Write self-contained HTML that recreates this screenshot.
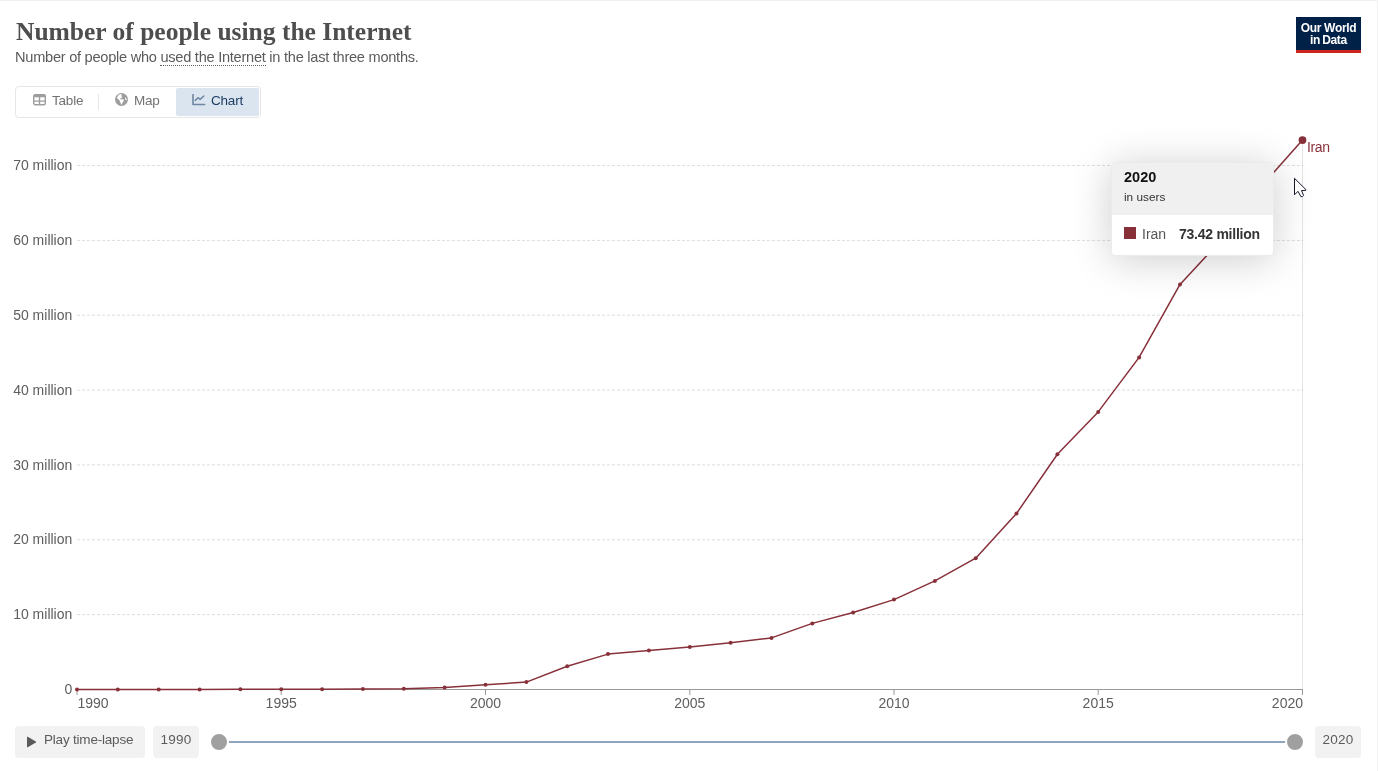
<!DOCTYPE html>
<html lang="en">
<head>
<meta charset="utf-8">
<title>Number of people using the Internet</title>
<style>
html,body{margin:0;padding:0;background:#fff;}
body{width:1378px;height:771px;position:relative;overflow:hidden;font-family:"Liberation Sans",sans-serif;color:#5b5b5b;}
.abs{position:absolute;white-space:nowrap;}
#frame-top{left:0;top:0;width:1378px;height:1px;background:#f0f0f0;}
#frame-right{left:1377px;top:0;width:1px;height:771px;background:#f2f2f2;}
#title{left:16px;top:16px;font-family:"Liberation Serif",serif;font-weight:bold;font-size:25.5px;line-height:32px;color:#4e4e4e;margin:0;}
#subtitle{left:15px;top:48px;font-size:14.6px;letter-spacing:-0.26px;line-height:18px;color:#5b5b5b;}
#subtitle .dod{border-bottom:1px dotted #5b5b5b;}
#logo{left:1296px;top:17px;width:65px;height:33px;background:#002147;border-bottom:3px solid #ce261e;color:#fff;font-weight:bold;font-size:12px;line-height:12px;text-align:center;letter-spacing:-0.3px;}
#logo span{display:block;}
#tabs{left:15px;top:86px;width:244px;height:30px;border:1px solid #e7e7e7;border-radius:4px;background:#fff;}
.tab{position:absolute;top:1px;height:28px;line-height:26px;font-size:13.5px;letter-spacing:-0.2px;color:#727272;white-space:nowrap;}
.tab svg{position:absolute;}
.tab .lbl{position:absolute;top:0;}
#tab-chart{background:#dbe5f0;border-radius:2px;color:#1d3d63;}
#tabsep{left:98px;top:94px;width:1px;height:16px;background:#e7e7e7;}
.btn{background:#f2f2f2;border-radius:4px;height:32px;line-height:28px;font-size:13.5px;letter-spacing:-0.2px;color:#5b5b5b;top:726px;}
#tooltip{left:1111px;top:162px;width:161px;height:92px;border:1px solid #ebebeb;border-radius:4px;background:#fff;box-shadow:0 4px 40px rgba(0,0,0,.2);overflow:visible;}
#tt-head{position:absolute;left:0;top:0;width:161px;height:52px;background:#f0f0f0;border-radius:3px 3px 0 0;}
#tt-title{position:absolute;left:12px;top:6px;font-size:14.5px;line-height:16px;font-weight:bold;color:#111;}
#tt-sub{position:absolute;left:12px;top:27px;font-size:11.8px;line-height:14px;color:#333;}
#tt-body{position:absolute;left:0;top:52px;width:161px;height:40px;}
#tt-sw{left:12px;top:12px;width:12px;height:12px;background:#883039;}
#tt-name{left:30px;top:11px;font-size:14px;line-height:16px;color:#555;}
#tt-val{left:67px;top:11px;font-size:14px;line-height:16px;font-weight:bold;color:#333;letter-spacing:-0.25px;}
</style>
</head>
<body>
<div class="abs" id="frame-top"></div>
<div class="abs" id="frame-right"></div>

<h1 class="abs" id="title">Number of people using the Internet</h1>
<div class="abs" id="subtitle">Number of people who <span class="dod">used the Internet</span> in the last three months.</div>

<div class="abs" id="logo"><span style="margin-top:5px">Our World</span><span style="word-spacing:-1px">in Data</span></div>

<div class="abs" id="tabs">
  <div class="tab" id="tab-table" style="left:1px;width:81px">
    <svg style="left:16px;top:6px" width="13" height="11.5" viewBox="0 0 13 11.5"><rect x="0.7" y="0.7" width="11.6" height="10" rx="1.5" fill="none" stroke="#9d9d9d" stroke-width="1.4"/><rect x="0.7" y="0.7" width="11.6" height="2.6" rx="1" fill="#9d9d9d"/><path d="M6.5 3v8M1 7.1h11" stroke="#9d9d9d" stroke-width="1.4"/></svg>
    <span class="lbl" style="left:35px">Table</span>
  </div>
  <div class="tab" id="tab-map" style="left:83px;width:76px">
    <svg style="left:16px;top:4.85px" width="13" height="13" viewBox="0 0 13 13"><circle cx="6.5" cy="6.5" r="6.5" fill="#9d9d9d"/><path d="M1.9 5.0L3.6 1.7L6.9 1.2L6.3 3.0L7.2 4.6L5.0 5.6L5.2 6.2L8.8 6.6L8.7 7.4L6.4 11.8L5.0 8.6L4.4 6.9Z" fill="#fff" stroke="#fff" stroke-width="0.15" stroke-linejoin="round"/><path d="M10.3 4.2L11.9 6.2L11.6 7.4L10.4 6.6L9.9 5.2Z" fill="#fff"/></svg>
    <span class="lbl" style="left:35px">Map</span>
  </div>
  <div class="tab" id="tab-chart" style="left:160px;width:83px">
    <svg style="left:16px;top:6px" width="14" height="12" viewBox="0 0 14 12"><path d="M1 0.6V10.5H12.6" fill="none" stroke="#6e87a2" stroke-width="1.6" stroke-linecap="round" stroke-linejoin="round"/><path d="M3.3 6.4L6.0 3.7L8.1 5.4L11.8 2" fill="none" stroke="#6e87a2" stroke-width="1.5" stroke-linecap="round" stroke-linejoin="round"/></svg>
    <span class="lbl" style="left:35px">Chart</span>
  </div>
</div>
<div class="abs" id="tabsep"></div>

<!-- CHART -->
<svg class="abs" id="chart" style="left:0;top:0" width="1378" height="771" viewBox="0 0 1378 771">
<line x1="77" y1="614.6" x2="1303" y2="614.6" stroke="#ddd" stroke-width="1" stroke-dasharray="3,2"/>
<line x1="77" y1="539.8" x2="1303" y2="539.8" stroke="#ddd" stroke-width="1" stroke-dasharray="3,2"/>
<line x1="77" y1="464.9" x2="1303" y2="464.9" stroke="#ddd" stroke-width="1" stroke-dasharray="3,2"/>
<line x1="77" y1="390.1" x2="1303" y2="390.1" stroke="#ddd" stroke-width="1" stroke-dasharray="3,2"/>
<line x1="77" y1="315.2" x2="1303" y2="315.2" stroke="#ddd" stroke-width="1" stroke-dasharray="3,2"/>
<line x1="77" y1="240.4" x2="1303" y2="240.4" stroke="#ddd" stroke-width="1" stroke-dasharray="3,2"/>
<line x1="77" y1="165.5" x2="1303" y2="165.5" stroke="#ddd" stroke-width="1" stroke-dasharray="3,2"/>
<line x1="77" y1="689.5" x2="1303" y2="689.5" stroke="#999" stroke-width="1"/>
<line x1="77.0" y1="690" x2="77.0" y2="695" stroke="#999" stroke-width="1"/>
<line x1="281.2" y1="690" x2="281.2" y2="695" stroke="#999" stroke-width="1"/>
<line x1="485.5" y1="690" x2="485.5" y2="695" stroke="#999" stroke-width="1"/>
<line x1="689.8" y1="690" x2="689.8" y2="695" stroke="#999" stroke-width="1"/>
<line x1="894.0" y1="690" x2="894.0" y2="695" stroke="#999" stroke-width="1"/>
<line x1="1098.2" y1="690" x2="1098.2" y2="695" stroke="#999" stroke-width="1"/>
<line x1="1302.5" y1="690" x2="1302.5" y2="695" stroke="#999" stroke-width="1"/>
<line x1="1302.5" y1="139.5" x2="1302.5" y2="689" stroke="#000" stroke-opacity="0.105" stroke-width="1"/>
<g font-size="14" fill="#5e5e5e" text-anchor="end">
<text x="72.3" y="694.1">0</text>
<text x="72.3" y="619.2">10 million</text>
<text x="72.3" y="544.4">20 million</text>
<text x="72.3" y="469.5">30 million</text>
<text x="72.3" y="394.7">40 million</text>
<text x="72.3" y="319.8">50 million</text>
<text x="72.3" y="245.0">60 million</text>
<text x="72.3" y="170.1">70 million</text>
</g>
<g font-size="14" fill="#5e5e5e">
<text x="77.5" y="708" text-anchor="start">1990</text>
<text x="281.2" y="708" text-anchor="middle">1995</text>
<text x="485.5" y="708" text-anchor="middle">2000</text>
<text x="689.8" y="708" text-anchor="middle">2005</text>
<text x="894.0" y="708" text-anchor="middle">2010</text>
<text x="1098.2" y="708" text-anchor="middle">2015</text>
<text x="1303" y="708" text-anchor="end">2020</text>
</g>
<path d="M77.0 689.4 L117.8 689.4 L158.7 689.4 L199.6 689.4 L240.4 689.3 L281.2 689.3 L322.1 689.2 L362.9 689.1 L403.8 688.8 L444.6 687.5 L485.5 684.7 L526.4 682.1 L567.2 666.3 L608.0 654.1 L648.9 650.6 L689.8 646.9 L730.6 642.7 L771.5 637.9 L812.3 623.4 L853.1 612.5 L894.0 599.6 L934.9 580.9 L975.7 558.2 L1016.5 513.5 L1057.4 454.2 L1098.2 411.9 L1139.1 357.4 L1180.0 284.4 L1220.8 240.5 L1261.7 185.9 L1302.5 140.1" fill="none" stroke="#883039" stroke-width="1.5" stroke-linejoin="round"/>
<g fill="#883039">
<circle cx="77.0" cy="689.4" r="2"/>
<circle cx="117.8" cy="689.4" r="2"/>
<circle cx="158.7" cy="689.4" r="2"/>
<circle cx="199.6" cy="689.4" r="2"/>
<circle cx="240.4" cy="689.3" r="2"/>
<circle cx="281.2" cy="689.3" r="2"/>
<circle cx="322.1" cy="689.2" r="2"/>
<circle cx="362.9" cy="689.1" r="2"/>
<circle cx="403.8" cy="688.8" r="2"/>
<circle cx="444.6" cy="687.5" r="2"/>
<circle cx="485.5" cy="684.7" r="2"/>
<circle cx="526.4" cy="682.1" r="2"/>
<circle cx="567.2" cy="666.3" r="2"/>
<circle cx="608.0" cy="654.1" r="2"/>
<circle cx="648.9" cy="650.6" r="2"/>
<circle cx="689.8" cy="646.9" r="2"/>
<circle cx="730.6" cy="642.7" r="2"/>
<circle cx="771.5" cy="637.9" r="2"/>
<circle cx="812.3" cy="623.4" r="2"/>
<circle cx="853.1" cy="612.5" r="2"/>
<circle cx="894.0" cy="599.6" r="2"/>
<circle cx="934.9" cy="580.9" r="2"/>
<circle cx="975.7" cy="558.2" r="2"/>
<circle cx="1016.5" cy="513.5" r="2"/>
<circle cx="1057.4" cy="454.2" r="2"/>
<circle cx="1098.2" cy="411.9" r="2"/>
<circle cx="1139.1" cy="357.4" r="2"/>
<circle cx="1180.0" cy="284.4" r="2"/>
<circle cx="1220.8" cy="240.5" r="2"/>
<circle cx="1261.7" cy="185.9" r="2"/>
<circle cx="1302.5" cy="140.1" r="3.9"/>
</g>
<text x="1307" y="152" font-size="14" letter-spacing="-0.4" fill="#883039">Iran</text>
</svg>

<!-- TOOLTIP -->
<div class="abs" id="tooltip">
  <div id="tt-head">
    <div id="tt-title">2020</div>
    <div id="tt-sub">in users</div>
  </div>
  <div id="tt-body">
    <span class="abs" id="tt-sw"></span>
    <span class="abs" id="tt-name">Iran</span>
    <span class="abs" id="tt-val">73.42 million</span>
  </div>
</div>
<svg class="abs" id="cursor" style="left:1293px;top:177px" width="16" height="23" viewBox="0 0 16 23"><path d="M1.5 1.3V17.8L5 14.3L7.9 19.6Q9.2 20.3 10.6 18.4L8.5 13.6L12.9 13.3V12.6Z" fill="#fff" stroke="#15182b" stroke-width="1" stroke-linejoin="round"/></svg>

<!-- TIMELINE -->
<div class="abs btn" id="play" style="left:15px;width:130px">
  <svg class="abs" style="left:11px;top:10px" width="11" height="12" viewBox="0 0 11 12"><path d="M1 1.2Q1 0.4 1.8 0.8L9.8 5.4Q10.5 6 9.8 6.6L1.8 11.2Q1 11.6 1 10.8Z" fill="#5b5b5b"/></svg>
  <span class="abs" style="left:29px;top:0">Play time-lapse</span>
</div>
<div class="abs btn" id="y0" style="left:153px;width:46px;text-align:center;letter-spacing:0.2px">1990</div>
<div class="abs btn" id="y1" style="left:1315px;width:46px;text-align:center;letter-spacing:0.2px">2020</div>
<div class="abs" id="sline" style="left:219px;top:741px;width:1076px;height:2px;background:#8fa4be"></div>
<div class="abs" id="h0" style="left:209px;top:732px;width:16px;height:16px;border-radius:50%;background:#a0a0a0;border:2px solid #fff"></div>
<div class="abs" id="h1" style="left:1285px;top:732px;width:16px;height:16px;border-radius:50%;background:#a0a0a0;border:2px solid #fff"></div>

</body>
</html>
